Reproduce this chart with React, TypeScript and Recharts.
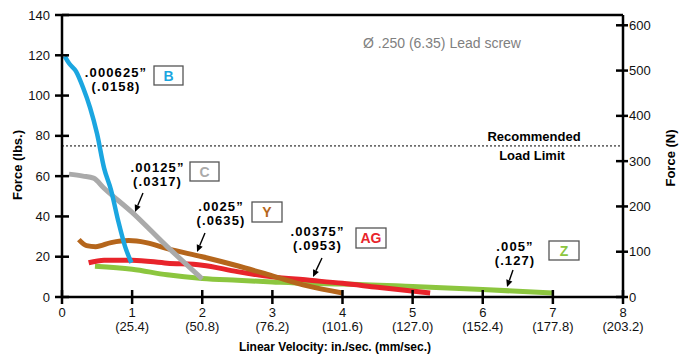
import { LineChart, Line, XAxis, YAxis, ReferenceLine, Customized } from "recharts";

// lead screw force vs. linear velocity, one series per thread pitch
const SERIES_B = [
  { v: 0.04, f: 119.5 }, { v: 0.1, f: 116 }, { v: 0.2, f: 112 }, { v: 0.3, f: 104 },
  { v: 0.4, f: 94 }, { v: 0.5, f: 81 }, { v: 0.6, f: 64 }, { v: 0.7, f: 53 },
  { v: 0.8, f: 38 }, { v: 0.9, f: 25 }, { v: 0.99, f: 17 },
];
const SERIES_C = [
  { v: 0.1, f: 61 }, { v: 0.3, f: 60 }, { v: 0.45, f: 59 }, { v: 0.6, f: 54 },
  { v: 1.0, f: 42 }, { v: 1.5, f: 25 }, { v: 2.0, f: 9 },
];
const SERIES_Y = [
  { v: 0.24, f: 28.5 }, { v: 0.35, f: 25.5 }, { v: 0.48, f: 25 }, { v: 0.7, f: 27 },
  { v: 0.95, f: 28 }, { v: 1.2, f: 27 }, { v: 1.5, f: 24 }, { v: 2.0, f: 20 },
  { v: 2.5, f: 15.5 }, { v: 3.0, f: 10.5 }, { v: 3.5, f: 5.5 }, { v: 4.0, f: 2 },
];
const SERIES_AG = [
  { v: 0.38, f: 17 }, { v: 0.6, f: 18.3 }, { v: 1.0, f: 18.3 }, { v: 1.5, f: 16.8 },
  { v: 2.0, f: 15.8 }, { v: 2.5, f: 12.6 }, { v: 3.0, f: 10 }, { v: 3.5, f: 8.4 },
  { v: 4.0, f: 6.8 }, { v: 4.5, f: 4.8 }, { v: 5.25, f: 2 },
];
const SERIES_Z = [
  { v: 0.47, f: 15.3 }, { v: 1.0, f: 13.8 }, { v: 1.5, f: 11 }, { v: 2.0, f: 9.2 },
  { v: 2.5, f: 8.3 }, { v: 3.0, f: 7.5 }, { v: 3.5, f: 6.8 }, { v: 4.0, f: 6.5 },
  { v: 5.0, f: 5.2 }, { v: 6.0, f: 3.7 }, { v: 7.0, f: 2 },
];

const X_TICKS = [0, 1, 2, 3, 4, 5, 6, 7, 8];
const MM_LABELS = ["", "(25.4)", "(50.8)", "(76.2)", "(101.6)", "(127.0)", "(152.4)", "(177.8)", "(203.2)"];
const LBS_TICKS = [0, 20, 40, 60, 80, 100, 120, 140];
const N_TICKS = [0, 100, 200, 300, 400, 500, 600];
const LBS_MAX = 140;
const N_MAX = 622.72; // 140 lbf in newtons
const LOAD_LIMIT = 75;

const FONT = "'Liberation Sans', Arial, Helvetica, sans-serif";

const NOTES = [
  { inch: ".000625\u201D", mm: "(.0158)", tx: 116, ty: 76.5, tag: "B", color: "#1ba6e0", box: [154, 66, 29, 19] },
  { inch: ".00125\u201D", mm: "(.0317)", tx: 157.5, ty: 171.5, tag: "C", color: "#aaaaaa", box: [190, 162, 29, 19], arrow: [143, 193, 135, 212] },
  { inch: ".0025\u201D", mm: "(.0635)", tx: 221, ty: 211, tag: "Y", color: "#b5661c", box: [252, 202, 30, 20], arrow: [205, 233, 197, 252] },
  { inch: ".00375\u201D", mm: "(.0953)", tx: 317.5, ty: 236, tag: "AG", color: "#e8242b", box: [356, 228, 30, 20], arrow: [322, 258, 313, 277] },
  { inch: ".005\u201D", mm: "(.127)", tx: 515, ty: 251, tag: "Z", color: "#8cc63f", box: [549, 241, 30, 19], arrow: [513, 270, 507, 287] },
];

function Arrow({ x1, y1, x2, y2 }: { x1: number; y1: number; x2: number; y2: number }) {
  const a = Math.atan2(y2 - y1, x2 - x1);
  const L = 7, W = 3.2;
  const bx = x2 - L * Math.cos(a), by = y2 - L * Math.sin(a);
  const px = -Math.sin(a) * W, py = Math.cos(a) * W;
  return (
    <g>
      <line x1={x1} y1={y1} x2={bx} y2={by} stroke="#000" strokeWidth={1.4} />
      <polygon points={`${x2},${y2} ${bx + px},${by + py} ${bx - px},${by - py}`} fill="#000" />
    </g>
  );
}

function Notes() {
  return (
    <g fontFamily={FONT}>
      <text x={442} y={48} textAnchor="middle" fontSize={14} fill="#808080">
        Ø .250 (6.35) Lead screw
      </text>
      <text x={534} y={141} textAnchor="middle" fontSize={13} fontWeight="bold" fill="#000">
        Recommended
      </text>
      <text x={532} y={160} textAnchor="middle" fontSize={13} fontWeight="bold" fill="#000">
        Load Limit
      </text>
      {NOTES.map((n) => (
        <g key={n.tag}>
          <text x={n.tx} y={n.ty} textAnchor="middle" fontSize={13} fontWeight="bold" style={{ letterSpacing: 1.1 }}>
            {n.inch}
          </text>
          <text x={n.tx} y={n.ty + 14} textAnchor="middle" fontSize={13} fontWeight="bold" style={{ letterSpacing: 1.1 }}>
            {n.mm}
          </text>
          <rect x={n.box[0]} y={n.box[1]} width={n.box[2]} height={n.box[3]} fill="#fff" stroke="#555" strokeWidth={1.3} />
          <text
            x={n.box[0] + n.box[2] / 2}
            y={n.box[1] + n.box[3] / 2 + 5}
            textAnchor="middle"
            fontSize={14}
            fontWeight="bold"
            fill={n.color}
          >
            {n.tag}
          </text>
          {n.arrow && <Arrow x1={n.arrow[0]} y1={n.arrow[1]} x2={n.arrow[2]} y2={n.arrow[3]} />}
        </g>
      ))}
      <text x={335} y={351} textAnchor="middle" fontSize={12} fontWeight="bold" fill="#000">
        Linear  Velocity: in./sec. (mm/sec.)
      </text>
      <text transform="translate(22,165) rotate(-90)" textAnchor="middle" fontSize={13} fontWeight="bold" fill="#000">
        Force (lbs.)
      </text>
      <text transform="translate(675,158) rotate(-90)" textAnchor="middle" fontSize={13} fontWeight="bold" fill="#000">
        Force (N)
      </text>
    </g>
  );
}

// ticks cross the axis line, so they are drawn by hand
function XTick({ x, y, payload, index }: any) {
  return (
    <g fontFamily={FONT} fontSize={13} fill="#111">
      <line x1={x} x2={x} y1={y - 7} y2={y + 7} stroke="#000" strokeWidth={2.5} />
      <text x={x} y={y + 20} textAnchor="middle">{payload.value}</text>
      <text x={x} y={y + 34} textAnchor="middle">{MM_LABELS[index]}</text>
    </g>
  );
}

function LeftTick({ x, y, payload }: any) {
  return (
    <g fontFamily={FONT} fontSize={13} fill="#111">
      <line x1={x - 7} x2={x + 7} y1={y} y2={y} stroke="#000" strokeWidth={2.5} />
      <text x={x - 12} y={y + 4.5} textAnchor="end">{payload.value}</text>
    </g>
  );
}

function RightTick({ x, y, payload }: any) {
  return (
    <g fontFamily={FONT} fontSize={13} fill="#111">
      <line x1={x - 7} x2={x + 5} y1={y} y2={y} stroke="#000" strokeWidth={2.5} />
      <text x={x + 6} y={y + 4.5} textAnchor="start">{payload.value}</text>
    </g>
  );
}

const lineProps = {
  dataKey: "f",
  type: "monotone" as const,
  dot: false,
  activeDot: false,
  isAnimationActive: false,
  yAxisId: "lbs",
};

export default function App() {
  return (
    <div style={{ position: "absolute", left: 0, top: 0, background: "#fff" }}>
      <LineChart width={689} height={356} margin={{ top: 15, right: 0, bottom: 0, left: 0 }}>
        <XAxis
          type="number"
          dataKey="v"
          domain={[0, 8]}
          ticks={X_TICKS}
          interval={0}
          height={59}
          tickSize={0}
          tickMargin={0}
          tickLine={false}
          tick={<XTick />}
          axisLine={{ stroke: "#000", strokeWidth: 2.5 }}
        />
        <YAxis
          yAxisId="lbs"
          type="number"
          domain={[0, LBS_MAX]}
          ticks={LBS_TICKS}
          interval={0}
          width={62}
          tickSize={0}
          tickMargin={0}
          tickLine={false}
          tick={<LeftTick />}
          axisLine={{ stroke: "#000", strokeWidth: 2.5 }}
        />
        <YAxis
          yAxisId="n"
          orientation="right"
          type="number"
          domain={[0, N_MAX]}
          allowDataOverflow
          ticks={N_TICKS}
          interval={0}
          width={66}
          tickSize={0}
          tickMargin={0}
          tickLine={false}
          tick={<RightTick />}
          axisLine={{ stroke: "#000", strokeWidth: 2.5 }}
        />
        <ReferenceLine yAxisId="lbs" y={LBS_MAX} stroke="#000" strokeWidth={2.5} />
        <ReferenceLine yAxisId="lbs" y={LOAD_LIMIT} stroke="#000" strokeWidth={1} strokeDasharray="2 2" />
        {/* empty series so the newton axis gets registered */}
        <Line {...lineProps} yAxisId="n" data={[]} stroke="none" />
        <Line {...lineProps} data={SERIES_Z} stroke="#8cc63f" strokeWidth={5} />
        <Line {...lineProps} data={SERIES_AG} stroke="#e8242b" strokeWidth={5} />
        <Line {...lineProps} data={SERIES_Y} stroke="#b5661c" strokeWidth={5} />
        <Line {...lineProps} data={SERIES_C} stroke="#aaaaaa" strokeWidth={5} />
        <Line {...lineProps} data={SERIES_B} stroke="#1ba6e0" strokeWidth={4.5} />
        <Customized component={Notes} />
      </LineChart>
    </div>
  );
}
